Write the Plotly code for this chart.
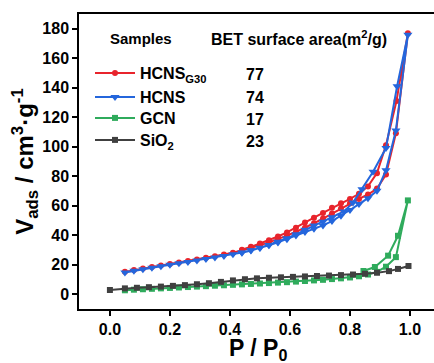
import plotly.graph_objects as go

# ---------------- data ----------------
p_grid = [0.05,0.08,0.11,0.14,0.17,0.20,0.23,0.26,0.29,0.32,0.35,0.38,0.41,0.44,0.47,0.50,
          0.53,0.56,0.59,0.62,0.65,0.68,0.71,0.74,0.77,0.80,0.83,0.86,0.89,0.92,0.953,0.993]

g30_ads_v = [15.0,16.2,17.3,18.3,19.3,20.3,21.3,22.3,23.4,24.5,25.6,26.8,28.0,29.5,31.2,33.0,
             35.0,37.2,39.6,42.2,45.0,48.0,51.2,54.6,58.0,61.5,64.5,67.5,71.5,81.0,109.0,177.0]
g30_des_p = [0.955,0.92,0.89,0.86,0.83,0.80,0.77,0.74,0.71,0.68,0.65,0.62,0.59,0.56,0.53,0.50,0.47,0.44]
g30_des_v = [131,101,82,73,68,64.5,61.5,58.5,55.0,51.8,48.5,45.0,41.8,39.0,36.5,34.2,32.0,30.0]

hcns_ads_v = [14.5,15.7,16.8,17.8,18.8,19.8,20.8,21.7,22.7,23.7,24.7,25.8,26.9,28.2,29.6,31.2,
              33.0,35.0,37.2,39.6,42.0,44.3,46.5,49.5,53.0,57.0,61.0,65.0,70.0,84.0,111.0,176.0]
hcns_des_p = [0.957,0.92,0.877,0.84,0.81,0.78,0.74,0.71,0.68,0.65,0.62,0.59,0.56,0.53,0.50,0.47,0.44]
hcns_des_v = [141,99,83,71,62,56,52,49,46.5,43.5,40.5,37.8,35.5,33.3,31.3,29.5,28.0]

gcn_ads_v = [2.5,2.9,3.2,3.5,3.8,4.1,4.4,4.7,5.0,5.3,5.6,5.9,6.2,6.5,6.8,7.1,
             7.4,7.7,8.0,8.4,8.8,9.2,9.6,10.1,10.6,11.2,12.0,13.2,15.0,18.5,25.0,63.5]
gcn_des_p = [0.96,0.927,0.883,0.845]
gcn_des_v = [39.5,26.0,18.3,15.6]

sio2_p = [0.0,0.05,0.09,0.13,0.17,0.21,0.25,0.29,0.33,0.37,0.41,0.45,0.49,0.53,0.57,0.61,
          0.65,0.69,0.73,0.77,0.81,0.85,0.89,0.93,0.96,0.995]
sio2_v = [2.7,3.8,4.2,4.6,5.0,5.5,6.0,6.6,7.3,8.2,9.2,10.0,10.6,11.0,11.3,11.6,
          11.9,12.2,12.5,12.8,13.2,13.7,14.4,15.5,17.0,19.0]

sample_names = ["HCNS<sub>G30</sub>", "HCNS", "GCN", "SiO<sub>2</sub>"]
bet_values = ["77", "74", "17", "23"]

x_ticks = [0.0, 0.2, 0.4, 0.6, 0.8, 1.0]
y_ticks = [0, 20, 40, 60, 80, 100, 120, 140, 160, 180]

# ---------------- figure ----------------
W, H = 434, 363
L, R, T, B = 79, 0, 14, 54
FONT = "Liberation Sans, Arial, sans-serif"

def px_x(px):
    return (px - L) / (W - L - R)

def px_y(py):
    return (H - B - py) / (H - T - B)

row_px = [73, 97, 118, 140]
legend_ids = ["legend", "legend2", "legend3", "legend4"]

fig = go.Figure()

series = [
    (sample_names[0], p_grid + g30_des_p, g30_ads_v + g30_des_v, "#e8242c", "circle", 6),
    (sample_names[1], p_grid + hcns_des_p, hcns_ads_v + hcns_des_v, "#2466dc", "triangle-down", 8),
    (sample_names[2], p_grid + gcn_des_p, gcn_ads_v + gcn_des_v, "#2fab5c", "square", 6),
    (sample_names[3], sio2_p, sio2_v, "#404040", "square", 6),
]
for i, (name, xs, ys, col, sym, sz) in enumerate(series):
    fig.add_trace(go.Scatter(
        x=xs, y=ys, name=name, mode="lines+markers",
        line=dict(color=col, width=2),
        marker=dict(symbol=sym, size=sz, color=col),
        legend=legend_ids[i],
    ))

axis_font = dict(family=FONT, size=16, color="black", weight="bold")

legend_cfg = {}
for i, lid in enumerate(legend_ids):
    legend_cfg[lid] = dict(
        x=px_x(90), y=px_y(row_px[i]), xanchor="left", yanchor="middle",
        bgcolor="rgba(0,0,0,0)", borderwidth=0,
        font=dict(family=FONT, size=16, color="black", weight="bold"),
        itemwidth=40,
    )

fig.update_layout(
    width=W, height=H,
    margin=dict(l=L, r=R, t=T, b=B),
    paper_bgcolor="white", plot_bgcolor="white",
    font=dict(family=FONT, color="black"),
    showlegend=True,
    xaxis=dict(
        range=[-0.103, 1.08], tickvals=x_ticks, ticktext=[f"{v:.1f}" for v in x_ticks],
        showline=True, linecolor="black", linewidth=1.5, mirror=True,
        ticks="outside", ticklen=5, tickwidth=1.5, tickcolor="black",
        showgrid=False, zeroline=False, tickfont=axis_font,
    ),
    yaxis=dict(
        range=[-10.2, 190], tickvals=y_ticks,
        showline=True, linecolor="black", linewidth=1.5,
        ticks="outside", ticklen=5, tickwidth=1.5, tickcolor="black",
        showgrid=False, zeroline=False, tickfont=axis_font,
        title=dict(text="V<sub>ads</sub> / cm<sup>3</sup>·g<sup>-1</sup>",
                   font=dict(family=FONT, size=24, color="black", weight="bold"), standoff=2),
    ),
    **legend_cfg,
)

# x-axis title as annotation (placed below tick labels)
fig.add_annotation(x=px_x(258), y=px_y(333), xref="paper", yref="paper",
                   text="P / P<sub>0</sub>", xanchor="center", yanchor="top", showarrow=False,
                   font=dict(family=FONT, size=23, color="black", weight="bold"))

fig.add_annotation(x=px_x(141), y=px_y(38), xref="paper", yref="paper", text="Samples",
                   xanchor="center", yanchor="middle", showarrow=False,
                   font=dict(family=FONT, size=15, color="black", weight="bold"))
fig.add_annotation(x=px_x(299), y=px_y(38), xref="paper", yref="paper",
                   text="BET surface area(m<sup>2</sup>/g)", xanchor="center", yanchor="middle",
                   showarrow=False, font=dict(family=FONT, size=16, color="black", weight="bold"))
for i, v in enumerate(bet_values):
    fig.add_annotation(x=px_x(255), y=px_y([75, 97, 119, 141][i]), xref="paper", yref="paper",
                       text=v, xanchor="center", yanchor="middle", showarrow=False,
                       font=dict(family=FONT, size=16, color="black", weight="bold"))

fig.write_html("out.html")
